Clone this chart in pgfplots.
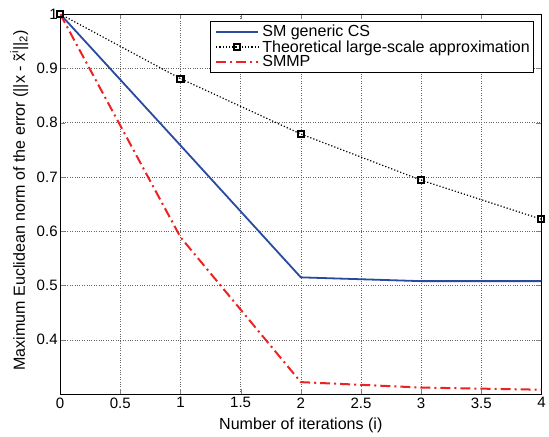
\documentclass[border=0pt]{standalone}
\usepackage{fontspec}
\setmainfont{Liberation Sans}
\usepackage{pgfplots}
\pgfplotsset{compat=1.18}
\definecolor{smblue}{RGB}{40,75,160}
\definecolor{smred}{RGB}{235,35,35}
\begin{document}
\begin{tikzpicture}
\begin{axis}[
    scale only axis,
    width=480pt, height=379pt,
    xmin=0, xmax=4, ymin=0.3, ymax=1,
    xtick={0,0.5,...,4},
    ytick={0.4,0.5,...,1},
    yticklabels={0.4,0.5,0.6,0.7,0.8,0.9,1},
    xticklabels={0,0.5,1,1.5,2,2.5,3,3.5,4},
    tick align=inside,
    major tick length=5pt,
    grid=major,
    grid style={dotted, black!60, line width=0.5pt},
    axis line style={line width=0.7pt},
    /pgf/number format/assume math mode=true,
    ticklabel style={font=\fontsize{15}{15}\selectfont},
    yticklabel style={xshift=1pt},
    label style={font=\fontsize{16}{18}\selectfont},
    xlabel={Number of iterations (i)},
    ylabel={Maximum Euclidean norm of the error (||x - \~{x}\textsuperscript{i}||\textsubscript{2})},
    xlabel style={yshift=-3pt},
    ylabel style={at={(axis description cs:-0.085,0.51)}, anchor=center},
    legend image code/.code={
        \path (0pt,0pt) (46pt,0pt);
        \draw[mark repeat=2, mark phase=2, #1]
        plot coordinates {(3pt,0pt) (24pt,0pt) (45pt,0pt)};},
    legend style={at={(0.985,0.982)}, anchor=north east, draw=black,
        line width=0.8pt, cells={anchor=west}, inner sep=2pt,
        font=\fontsize{16}{16}\selectfont, row sep=-2pt},
    legend cell align=left,
]
\addplot[smblue, line width=1.8pt] coordinates {
    (0,1) (1,0.758) (2,0.515) (3,0.508) (4,0.508)
};
\addlegendentry{SM generic CS}
\addplot[black, dotted, line width=1.2pt, mark=square, mark size=3pt,
    mark options={solid, line width=2pt, black}] coordinates {
    (0,1) (1,0.881) (2,0.779) (3,0.694) (4,0.622)
};
\addlegendentry{Theoretical large-scale approximation}
\addplot[smred, dash pattern=on 10pt off 4pt on 2pt off 4pt, line width=2pt] coordinates {
    (0,1) (1,0.589) (2,0.322) (3,0.312) (4,0.308)
};
\addlegendentry{SMMP}
\end{axis}
\path ([xshift=-60pt, yshift=14pt]current axis.north west);
\end{tikzpicture}
\end{document}
